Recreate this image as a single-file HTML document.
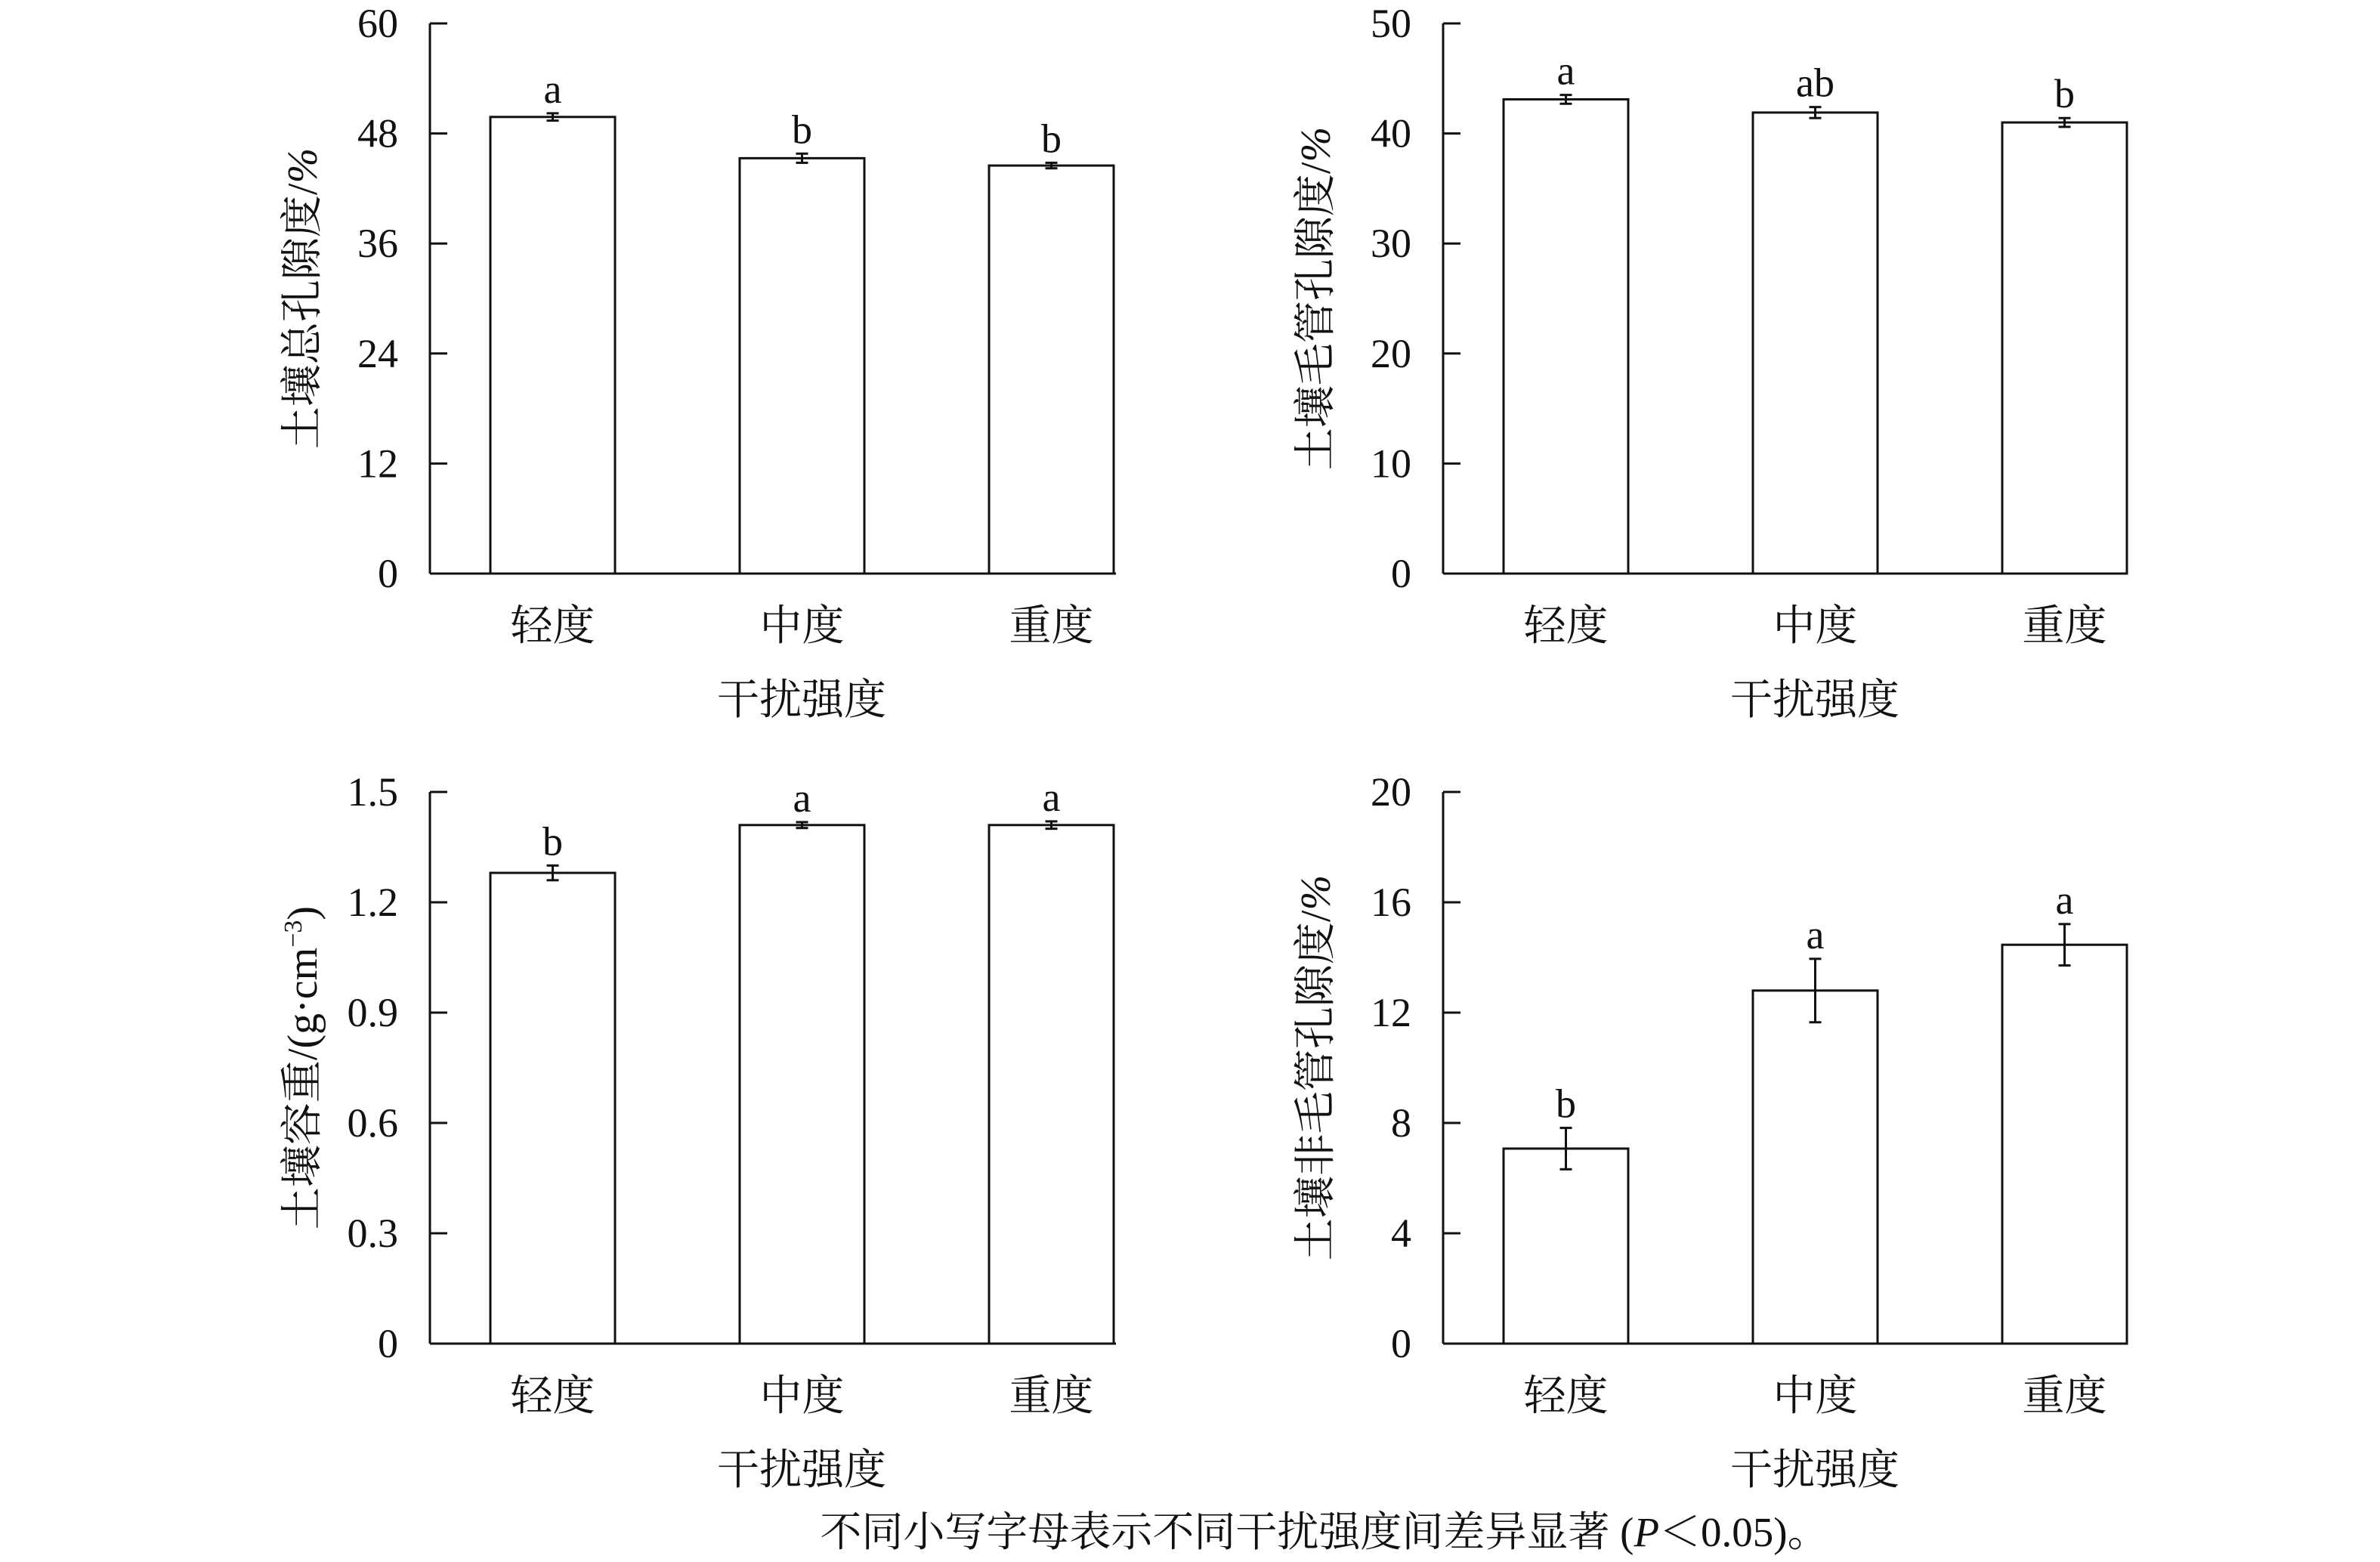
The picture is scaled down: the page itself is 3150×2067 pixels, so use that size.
<!DOCTYPE html>
<html><head><meta charset="utf-8"><style>
html,body{margin:0;padding:0;background:#fff;}
svg text{font-family:"Liberation Serif","Noto Serif CJK SC","Noto Sans CJK SC",serif;fill:#111;}
</style></head><body>
<svg id="s" width="3150" height="2062" xmlns="http://www.w3.org/2000/svg"></svg>
<script>
const s=document.getElementById('s');let h='';
function panel(ax,top,bot,right,max,ticks,labels,vals,errs,lets,ylab,cats){
  const sc=(bot-top)/max;
  h+=`<line x1="${ax}" y1="${top}" x2="${ax}" y2="${bot}" stroke="#111" stroke-width="3"/>`;
  h+=`<line x1="${ax}" y1="${bot}" x2="${right}" y2="${bot}" stroke="#111" stroke-width="3"/>`;
  ticks.forEach((t,i)=>{const y=bot-t*sc;
    h+=`<line x1="${ax}" y1="${y}" x2="${ax+23}" y2="${y}" stroke="#111" stroke-width="3"/>`;
    h+=`<text x="${ax-42}" y="${y+18}" font-size="54" text-anchor="end">${labels[i]}</text>`;});
  vals.forEach((v,i)=>{
    const L=ax+80+i*330, R=L+165, c=(L+R)/2, y=bot-v*sc;
    h+=`<rect x="${L}" y="${y}" width="165" height="${bot-y}" fill="#fff" stroke="#111" stroke-width="3"/>`;
    const e=errs[i]*sc, et=y-e, eb=y+e;
    h+=`<line x1="${c}" y1="${et}" x2="${c}" y2="${eb}" stroke="#111" stroke-width="3"/>`;
    h+=`<line x1="${c-8}" y1="${et}" x2="${c+8}" y2="${et}" stroke="#111" stroke-width="3"/>`;
    h+=`<line x1="${c-8}" y1="${eb}" x2="${c+8}" y2="${eb}" stroke="#111" stroke-width="3"/>`;
    h+=`<text x="${c}" y="${et-14}" font-size="54" text-anchor="middle">${lets[i]}</text>`;
    h+=`<text x="${c}" y="${bot+88}" font-size="56" text-anchor="middle">${cats[i]}</text>`;
  });
  const cx=ax+80+330+82;
  h+=`<text x="${cx}" y="${bot+186}" font-size="56" text-anchor="middle">干扰强度</text>`;
  const lx=ax-150;
  h+=`<text transform="translate(${lx},${(top+bot)/2}) rotate(-90)" font-size="56" text-anchor="middle">${ylab}</text>`;
}
const cats=['轻度','中度','重度'];
panel(569,31,759,1477,60,[0,12,24,36,48,60],['0','12','24','36','48','60'],[49.8,45.3,44.5],[0.4,0.5,0.3],['a','b','b'],'土壤总孔隙度/<tspan font-style="italic">%</tspan>',cats);
panel(1910,31,759,2815,50,[0,10,20,30,40,50],['0','10','20','30','40','50'],[43.1,41.9,41.0],[0.4,0.5,0.4],['a','ab','b'],'土壤毛管孔隙度/<tspan font-style="italic">%</tspan>',cats);
panel(569,1048,1778,1477,1.5,[0,0.3,0.6,0.9,1.2,1.5],['0','0.3','0.6','0.9','1.2','1.5'],[1.28,1.41,1.41],[0.02,0.008,0.01],['b','a','a'],'土壤容重/(g·cm<tspan font-size="34" dy="-20">−3</tspan><tspan dy="20">)</tspan>',cats);
panel(1910,1048,1778,2815,20,[0,4,8,12,16,20],['0','4','8','12','16','20'],[7.07,12.8,14.46],[0.75,1.15,0.75],['b','a','a'],'土壤非毛管孔隙度/<tspan font-style="italic">%</tspan>',cats);
h+=`<text x="1753" y="2046" font-size="55" text-anchor="middle">不同小写字母表示不同干扰强度间差异显著 (<tspan font-style="italic">P</tspan>＜0.05)。</text>`;
s.innerHTML=h;
</script>
</body></html>
